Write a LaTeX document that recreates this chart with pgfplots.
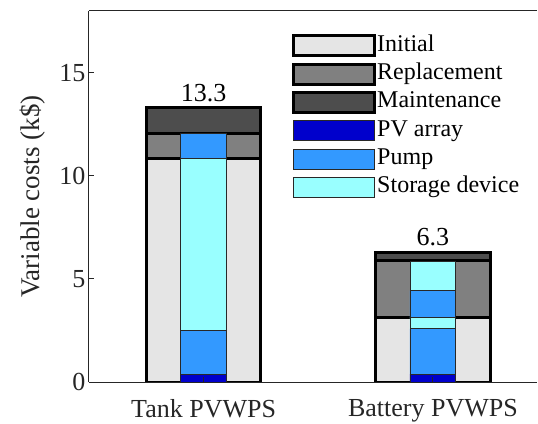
\documentclass[border=0pt]{standalone}
\usepackage{fontspec}
\setmainfont{Liberation Serif}
\newfontfamily\tnr{Liberation Serif}
\usepackage{pgfplots}
\pgfplotsset{compat=1.18}
\definecolor{cinit}{RGB}{229,229,229}
\definecolor{crepl}{RGB}{128,128,128}
\definecolor{cmaint}{RGB}{77,77,77}
\definecolor{cpv}{RGB}{0,0,204}
\definecolor{cpump}{RGB}{51,153,255}
\definecolor{cstor}{RGB}{153,255,255}
\definecolor{axc}{RGB}{38,38,38}
\definecolor{inedge}{RGB}{40,40,40}
\pgfplotsset{
  base/.style={scale only axis, width=448pt, height=371pt,
    xmin=0.5, xmax=2.454, ymin=0, ymax=18, ybar stacked,
    at={(0pt,0pt)}, anchor=south west},
}
\begin{document}
\begin{tikzpicture}[font=\tnr]
\path[use as bounding box] (-89pt,-41pt) rectangle (449pt,382pt);
\begin{axis}[base, hide axis, bar width=0.5]
\addplot[fill=cinit, draw=black, line width=3pt] coordinates {(1,10.85) (2,3.15)};
\addplot[fill=crepl, draw=black, line width=3pt] coordinates {(1,1.2) (2,2.75)};
\addplot[fill=cmaint, draw=black, line width=3pt] coordinates {(1,1.25) (2,0.4)};
\end{axis}
\begin{axis}[base, bar width=0.2,
  axis x line*=box, axis y line*=left,
  xtick={1,2}, xticklabels={Tank PVWPS, Battery PVWPS},
  ytick={0,5,10,15},
  tick align=inside, xtick pos=left, ytick pos=left,
  major tick length=5pt,
  axis line style={axc, line width=1pt},
  tick style={axc, line width=1pt},
  /pgf/number format/assume math mode=true,
  ticklabel style={font=\tnr\fontsize{26}{30}\selectfont, text=axc},
  xticklabel style={yshift=-14pt},
  ylabel={Variable costs (k\$)},
  ylabel style={font=\tnr\fontsize{27}{32}\selectfont, text=axc, yshift=7pt},
  axis on top,
  legend cell align=left,
  legend style={draw=none, fill=none, at={(0.4465,0.946)}, anchor=north west,
    font=\tnr\fontsize{24}{28}\selectfont, row sep=3.3pt, column sep=0pt,
    nodes={inner sep=1pt, text height=17pt, text depth=6pt}},
]
\addlegendimage{legend image code/.code={\draw[fill=cinit,draw=black,line width=3pt] (0pt,-10pt) rectangle (81pt,10pt);}}
\addlegendentry{Initial}
\addlegendimage{legend image code/.code={\draw[fill=crepl,draw=black,line width=3pt] (0pt,-10pt) rectangle (81pt,10pt);}}
\addlegendentry{Replacement}
\addlegendimage{legend image code/.code={\draw[fill=cmaint,draw=black,line width=3pt] (0pt,-10pt) rectangle (81pt,10pt);}}
\addlegendentry{Maintenance}
\addlegendimage{legend image code/.code={\draw[fill=cpv,draw=inedge,line width=0.8pt] (0pt,-10pt) rectangle (81pt,10pt);}}
\addlegendentry{PV array}
\addlegendimage{legend image code/.code={\draw[fill=cpump,draw=inedge,line width=0.8pt] (0pt,-10pt) rectangle (81pt,10pt);}}
\addlegendentry{Pump}
\addlegendimage{legend image code/.code={\draw[fill=cstor,draw=inedge,line width=0.8pt] (0pt,-10pt) rectangle (81pt,10pt);}}
\addlegendentry{Storage device}
\addplot[forget plot, fill=cpv, draw=inedge, line width=0.8pt] coordinates {(1,0.35) (2,0.38)};
\addplot[forget plot, fill=cpump, draw=inedge, line width=0.8pt] coordinates {(1,2.15) (2,2.2)};
\addplot[forget plot, fill=cstor, draw=inedge, line width=0.8pt] coordinates {(1,8.35) (2,0.57)};
\addplot[forget plot, fill=cpump, draw=inedge, line width=0.8pt] coordinates {(1,1.2) (2,1.28)};
\addplot[forget plot, fill=cstor, draw=inedge, line width=0.8pt] coordinates {(1,0) (2,1.43)};
\node[above, font=\tnr\fontsize{26}{30}\selectfont, inner sep=2pt] at (axis cs:1,13.5) {13.3};
\node[above, font=\tnr\fontsize{26}{30}\selectfont, inner sep=2pt] at (axis cs:2,6.5) {6.3};
\end{axis}
\end{tikzpicture}
\end{document}
